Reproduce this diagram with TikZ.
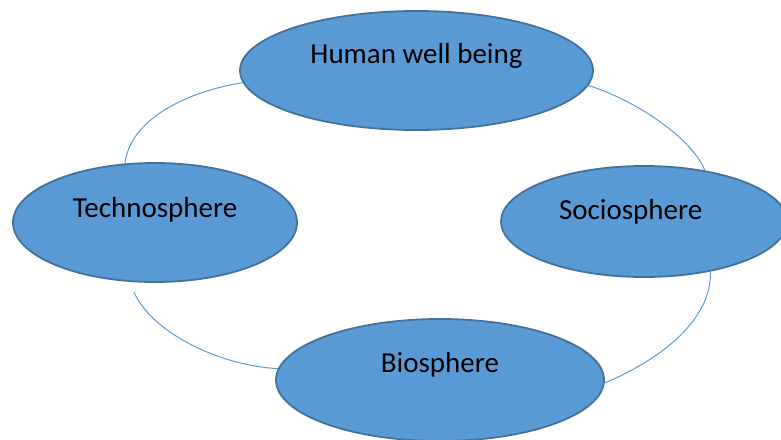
\documentclass[tikz,border=0pt]{standalone}
\usepackage{fontspec}
\setmainfont{Carlito}
\usetikzlibrary{shapes.geometric,backgrounds}
\definecolor{sphfill}{HTML}{5B9BD5}
\definecolor{sphedge}{HTML}{41719C}
\begin{document}
\begin{tikzpicture}[x=1pt,y=-1pt,
  sphere/.style={ellipse, draw=sphedge, fill=sphfill, line width=1.8pt,
    inner sep=0pt, font=\fontsize{29}{34}\selectfont,
    text height=20pt, text depth=#1},
  link/.style={draw=sphfill, line width=1pt}]
\useasboundingbox (0,0) rectangle (781,439);

% the four spheres
\node[sphere=34.4pt, minimum width=353pt, minimum height=119pt]
  (hw) at (416.5,70.5) {Human well being};
\node[sphere=31pt, minimum width=284pt, minimum height=119pt]
  (tech) at (155,222.5) {Technosphere};
\node[sphere=25pt, minimum width=286pt, minimum height=111pt,
      text width=170pt, align=left]
  (socio) at (644,221.5) {Sociosphere};
\node[sphere=34.6pt, minimum width=328pt, minimum height=122pt]
  (bio) at (440,380) {Biosphere};

% loose end of the lower left arc, just below the Technosphere
\coordinate (techgap) at (134,292);

% arcs joining the spheres, kept behind them
\begin{pgfonlayer}{background}
  \draw[link] (hw.184) .. controls (185,92) and (130,120) .. (tech.117);
  \draw[link] (hw.355) .. controls (630,98) and (690,135) .. (socio.40);
  \draw[link] (techgap) .. controls (150,330) and (215,365) .. (bio.176);
  \draw[link] (socio.323) .. controls (712,320) and (660,360) .. (bio.359);
\end{pgfonlayer}
\end{tikzpicture}
\end{document}
